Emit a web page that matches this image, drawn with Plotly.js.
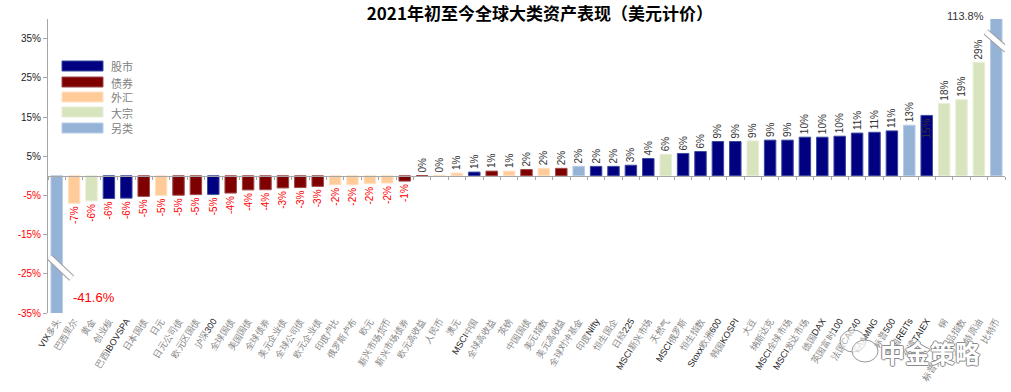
<!DOCTYPE html>
<html><head><meta charset="utf-8">
<script src="https://cdn.plot.ly/plotly-3.0.1.min.js"></script>
<style>html,body{margin:0;padding:0;background:#fff}#chart{width:1011px;height:392px}</style>
</head><body><div id="chart"></div>
<script>
const categories = ['VIX多头','巴西里尔','黄金','创业板','巴西IBOVSPA','日本国债','日元','日元公司债','欧元区国债','沪深300',
  '全球国债','美国国债','全球债券','美元企业债','全球公司债','欧元企业债','印度卢比','俄罗斯卢布','欧元','新兴市场货币',
  '新兴市场债券','欧元高收益','人民币','澳元','MSCI中国','全球高收益','英镑','中国国债','美元指数','美元高收益',
  '全球对冲基金','印度Nifty','恒生国企','日经225','MSCI新兴市场','天然气','MSCI俄罗斯','恒生指数','Stoxx欧洲600','韩国KOSPI',
  '大豆','纳斯达克','MSCI全球市场','MSCI发达市场','德国DAX','英国富时100','法国CAC40','FAAMNG','标普500','美国REITs',
  '台湾TAIEX','铜','标普大宗商品指数','布伦特原油','比特币'];
const values = [-41.6,-7.0,-6.4,-5.8,-5.7,-5.25,-5.0,-4.95,-4.8,-4.75,
  -4.4,-3.6,-3.55,-3.1,-3.0,-2.7,-2.3,-2.3,-2.0,-1.85,
  -1.35,0.05,0.1,0.7,0.95,1.2,1.2,1.6,1.9,1.9,
  2.4,2.4,2.4,2.7,4.4,5.5,5.7,6.2,8.75,8.75,
  8.9,9.1,9.1,9.85,9.85,10.1,10.9,11.1,11.45,12.9,
  15.4,18.4,19.4,28.9,113.8];
const assetTypes = ['另类','外汇','大宗','股市','股市','债券','外汇','债券','债券','股市',
  '债券','债券','债券','债券','债券','债券','外汇','外汇','外汇','外汇',
  '债券','债券','外汇','外汇','股市','债券','外汇','债券','外汇','债券',
  '另类','股市','股市','股市','股市','大宗','股市','股市','股市','股市',
  '大宗','股市','股市','股市','股市','股市','股市','股市','股市','另类',
  '股市','大宗','大宗','大宗','另类'];
const legendNames = ['股市','债券','外汇','大宗','另类'];
const yTickValues = [-35,-25,-15,-5,5,15,25,35];
const yTickLabels = ['-35%','-25%','-15%','-5%','5%','15%','25%','35%'];
const chartTitle = '2021年初至今全球大类资产表现（美元计价）';
const watermark = '中金策略';

const fillColors = {'股市':'#000080','债券':'#7F0000','外汇':'#FFCC99','大宗':'#D7E4BD','另类':'#95B3D7'};
const edgeColors = {'股市':'#3B4C9E','债券':'#A04848','外汇':'#FFE0C2','大宗':'#E6EED6','另类':'#B7CCE6'};
const yRange = [-35, 40];
const insideLabel = '台湾TAIEX';

const fmt = v => Math.round(v) + '%';
const broken = values.map(v => v < yRange[0] || v > yRange[1]);
const barText = values.map((v,i) => broken[i] ? '' : fmt(v));
const textColors = values.map(v => v < 0 ? '#FF0000' : '#333333');
const textPos = categories.map(c => c === insideLabel ? 'inside' : 'outside');
const tickText = categories.map(c => c.replace(/([\u4e00-\u9fff]+)/g, '<span style="color:#808080">$1</span>'));
const yTickText = yTickLabels.map((t,i) => yTickValues[i] < 0 ? '<span style="color:#FF0000">'+t+'</span>' : t);

const traces = [{
  type:'bar', x:categories, y:values,
  marker:{color:assetTypes.map(t=>fillColors[t]), line:{color:assetTypes.map(t=>edgeColors[t]), width:1}},
  text:barText, textposition:textPos, textangle:-90, insidetextanchor:'end',
  constraintext:'none', cliponaxis:true,
  textfont:{family:'Liberation Sans, Arial', size:10, color:textColors},
  hoverinfo:'skip', showlegend:false
},{
  type:'scatter', mode:'markers', x:categories, y:values, xaxis:'x2',
  marker:{opacity:0}, hoverinfo:'skip', showlegend:false
}];

// plot area in pixels
const L=48, R=1005, T=19, B=313;
const px = x => (x-L)/(R-L);
const py = y => (B-y)/(B-T);

const shapes = [];
const annotations = [];
const legTops = [61,77,92,107,123];
legendNames.forEach((n,i)=>{
  shapes.push({type:'rect', xref:'paper', yref:'paper', x0:px(62), x1:px(103), y0:py(legTops[i]), y1:py(legTops[i]+10),
    fillcolor:fillColors[n], line:{color:edgeColors[n], width:1}});
  annotations.push({xref:'paper', yref:'paper', x:px(109), y:py(legTops[i]+5), xanchor:'left', yanchor:'middle',
    text:n, showarrow:false, height:13, valign:'middle',
    font:{family:'Noto Sans CJK SC', size:11, color:'#808080'}});
});

// axis break marks
const iFirst = 0, iLast = categories.length-1;
function breakMark(x0,y0,x1,y1){
  shapes.push({type:'line', xref:'x', yref:'y', x0, y0, x1, y1, line:{color:'#A0A0A0', width:7}});
  shapes.push({type:'line', xref:'x', yref:'y', x0, y0, x1, y1, line:{color:'#FFFFFF', width:5}});
}
breakMark(iFirst-0.42, -20.7, iFirst+0.86, -26.1);
breakMark(iLast-0.6, 36.7, iLast+0.6, 32.1);

annotations.push({xref:'x', yref:'y', x:categories[iFirst], y:-31, xanchor:'left', yanchor:'middle', xshift:14,
  text:values[iFirst].toFixed(1)+'%', showarrow:false, font:{family:'Liberation Sans, Arial', size:13, color:'#FF0000'}});
annotations.push({xref:'x', yref:'paper', x:categories[iLast], y:py(15.5), xanchor:'right', yanchor:'middle', xshift:-10,
  text:values[iLast].toFixed(1)+'%', showarrow:false, font:{family:'Liberation Sans, Arial', size:11, color:'#333'}});

// watermark
annotations.push({xref:'paper', yref:'paper', x:px(930), y:py(352), xanchor:'center', yanchor:'middle',
  text:watermark, showarrow:false,
  font:{family:'Noto Sans CJK SC', size:25, weight:'bold', color:'#FFFFFF',
    shadow:'1px 0 0 #888, -1px 0 0 #888, 0 1px 0 #888, 0 -1px 0 #888'}});
shapes.push({type:'circle', xref:'paper', yref:'paper', x0:px(840), x1:px(866), y0:py(330), y1:py(352), line:{color:'#999', width:1}, fillcolor:'rgba(255,255,255,0.6)'});
shapes.push({type:'circle', xref:'paper', yref:'paper', x0:px(852), x1:px(878), y0:py(340), y1:py(362), line:{color:'#999', width:1}, fillcolor:'rgba(255,255,255,0.6)'});

const layout = {
  width:1011, height:392,
  margin:{l:L, r:1011-R, t:T, b:392-B, pad:0},
  paper_bgcolor:'#fff', plot_bgcolor:'#fff',
  font:{family:'Liberation Sans, Arial', size:10, color:'#222'},
  title:{text:chartTitle, x:0.534, xanchor:'center', xref:'container', y:1-14/392, yref:'container', yanchor:'middle',
    font:{family:'Noto Sans CJK SC', size:17, weight:'bold', color:'#000'}},
  bargap:0.34, hovermode:false, showlegend:false,
  xaxis:{type:'category', range:[-0.5, categories.length-0.5], tickvals:categories, ticktext:tickText,
    tickangle:-58, tickfont:{family:'Liberation Sans, Arial', size:9, color:'#222'},
    showline:false, ticks:'', showgrid:false, zeroline:false, automargin:false, fixedrange:true},
  xaxis2:{type:'category', overlaying:'x', matches:'x', anchor:'free', position:(0-yRange[0])/(yRange[1]-yRange[0]),
    range:[-0.5, categories.length-0.5], showline:true, linecolor:'#A6A6A6', linewidth:1,
    ticks:'outside', tickson:'boundaries', ticklen:3, tickcolor:'#A6A6A6', showticklabels:false, showgrid:false, zeroline:false},
  yaxis:{range:yRange, tickvals:yTickValues, ticktext:yTickText, ticks:'outside', ticklen:4, tickcolor:'#A6A6A6',
    showline:true, linecolor:'#A6A6A6', linewidth:1, showgrid:false, zeroline:false, automargin:false,
    tickfont:{family:'Liberation Sans, Arial', size:10, color:'#222'}},
  shapes, annotations
};
Plotly.newPlot('chart', traces, layout, {displayModeBar:false, staticPlot:true});
</script></body></html>
